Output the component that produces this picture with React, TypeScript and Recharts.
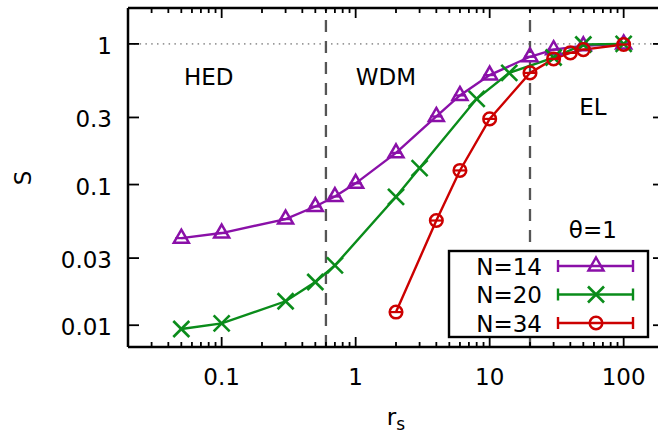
import React from "react";
import { LineChart, Line, XAxis, YAxis, ReferenceLine, ReferenceDot } from "recharts";

const FONT = "'DejaVu Sans', sans-serif";

// r_s and S for each particle number
const rsN14 = [0.05, 0.1, 0.3, 0.5, 0.7, 1, 2, 4, 6, 10, 20, 30, 50, 100];
const sN14 = [0.0416, 0.0452, 0.0568, 0.0698, 0.0822, 0.102, 0.168, 0.305, 0.43, 0.6, 0.81, 0.91, 0.97, 1.0];
const rsN20 = [0.05, 0.1, 0.3, 0.5, 0.7, 2, 3, 8, 14, 30, 50, 100];
const sN20 = [0.0094, 0.0103, 0.0148, 0.0203, 0.0266, 0.0818, 0.131, 0.407, 0.622, 0.8, 0.99, 1.0];
const rsN34 = [2, 4, 6, 10, 20, 30, 40, 50, 100];
const sN34 = [0.0124, 0.0555, 0.126, 0.293, 0.622, 0.782, 0.863, 0.911, 0.99];

const X_MAJOR = [0.1, 1, 10, 100];
const X_TICKS = [
  0.02, 0.03, 0.04, 0.05, 0.06, 0.07, 0.08, 0.09, 0.1,
  0.2, 0.3, 0.4, 0.5, 0.6, 0.7, 0.8, 0.9, 1,
  2, 3, 4, 5, 6, 7, 8, 9, 10,
  20, 30, 40, 50, 60, 70, 80, 90, 100, 200,
];
const Y_TICKS = [0.01, 0.03, 0.1, 0.3, 1];

const REGION_BOUNDS = [0.6, 20];

const noteText = ["HED", "WDM", "EL", "θ=1"];
const noteX = [0.08, 1.68, 58.9, 58.9];
const noteY = [0.581, 0.581, 0.356, 0.0479];

const SERIES = [
  { name: "N=14", color: "#8a10a8", marker: "tri", xs: rsN14, ys: sN14 },
  { name: "N=20", color: "#0a8c1a", marker: "x", xs: rsN20, ys: sN20 },
  { name: "N=34", color: "#cc0000", marker: "circle", xs: rsN34, ys: sN34 },
];

function Marker({ kind, cx, cy, color, cap = true }: any) {
  if (kind === "tri") {
    return (
      <g>
        <path
          d={`M${cx},${cy - 8.5} L${cx + 7.5},${cy + 4.5} L${cx - 7.5},${cy + 4.5} Z`}
          fill="none" stroke={color} strokeWidth={2.5}
        />
        {cap && <line x1={cx - 6} x2={cx + 6} y1={cy} y2={cy} stroke={color} strokeWidth={2.2} />}
      </g>
    );
  }
  if (kind === "x") {
    return (
      <g stroke={color} strokeWidth={2.6}>
        <line x1={cx - 8} y1={cy - 8} x2={cx + 8} y2={cy + 8} />
        <line x1={cx - 8} y1={cy + 8} x2={cx + 8} y2={cy - 8} />
      </g>
    );
  }
  return (
    <g>
      <circle cx={cx} cy={cy} r={6.3} fill="none" stroke={color} strokeWidth={2.5} />
      {cap && <line x1={cx - 6} x2={cx + 6} y1={cy} y2={cy} stroke={color} strokeWidth={2.2} />}
    </g>
  );
}

const BottomTick = ({ x, y, payload }: any) => {
  const major = X_MAJOR.includes(payload.value);
  return (
    <g>
      <line x1={x} x2={x} y1={y} y2={y - (major ? 10 : 5)} stroke="#000" strokeWidth={1.8} />
      {major && (
        <text x={x} y={y + 38} textAnchor="middle" fontSize={23} fontFamily={FONT} fill="#000">
          {String(payload.value)}
        </text>
      )}
    </g>
  );
};

const TopTick = ({ x, y, payload }: any) => {
  const major = X_MAJOR.includes(payload.value);
  return <line x1={x} x2={x} y1={y} y2={y + (major ? 10 : 5)} stroke="#000" strokeWidth={1.8} />;
};

const LeftTick = ({ x, y, payload }: any) => (
  <g>
    <line x1={x} x2={x + 11} y1={y} y2={y} stroke="#000" strokeWidth={1.8} />
    <text x={x - 16} y={y + 10} textAnchor="end" fontSize={23} fontFamily={FONT} fill="#000">
      {String(payload.value)}
    </text>
  </g>
);

const RightTick = ({ x, y }: any) => (
  <line x1={x} x2={x - 11} y1={y} y2={y} stroke="#000" strokeWidth={1.8} />
);

const frame = { stroke: "#000", strokeWidth: 2.5 };

export default function App() {
  return (
    <div style={{ position: "absolute", left: 0, top: 0, width: 658, height: 434, overflow: "hidden", background: "#fff" }}>
      <LineChart width={672} height={434} margin={{ top: 7, right: 7, bottom: 27, left: 68 }}>
        <XAxis
          xAxisId={0} dataKey="x" type="number" scale="log" domain={[0.02, 200]} allowDataOverflow
          ticks={X_TICKS} interval={0} tick={BottomTick} tickLine={false} tickSize={0} tickMargin={0}
          axisLine={frame} height={60}
        />
        <XAxis
          xAxisId="top" orientation="top" dataKey="x" type="number" scale="log" domain={[0.02, 200]} allowDataOverflow
          ticks={X_TICKS} interval={0} tick={TopTick} tickLine={false} tickSize={0} tickMargin={0}
          axisLine={frame} height={1}
        />
        <YAxis
          yAxisId={0} type="number" scale="log" domain={[0.007, 1.8]} allowDataOverflow
          ticks={Y_TICKS} interval={0} tick={LeftTick} tickLine={false} tickSize={0} tickMargin={0}
          axisLine={frame} width={60}
        />
        <YAxis
          yAxisId="right" orientation="right" type="number" scale="log" domain={[0.007, 1.8]} allowDataOverflow
          ticks={Y_TICKS} interval={0} tick={RightTick} tickLine={false} tickSize={0} tickMargin={0}
          axisLine={frame} width={1}
        />
        <ReferenceLine y={1} stroke="#999" strokeWidth={1.6} strokeDasharray="1.5 4.3" />
        {REGION_BOUNDS.map((b) => (
          <ReferenceLine key={b} x={b} stroke="#555" strokeWidth={2.3} strokeDasharray="12 9" />
        ))}
        {noteText.map((t, i) => (
          <ReferenceDot
            key={t} x={noteX[i]} y={noteY[i]} r={0} fill="none" stroke="none"
            label={{ value: t, position: "center", fontSize: 23, fontFamily: FONT, fill: "#000" }}
          />
        ))}
        {SERIES.map((s) => (
          <Line
            key={s.name}
            data={s.xs.map((x, i) => ({ x, y: s.ys[i] }))}
            dataKey="y"
            name={s.name}
            type="linear"
            stroke={s.color}
            strokeWidth={2.4}
            isAnimationActive={false}
            activeDot={false}
            dot={(p: any) => <Marker key={`${s.name}-${p.index}`} kind={s.marker} cx={p.cx} cy={p.cy} color={s.color} />}
          />
        ))}
      </LineChart>
      <svg width={658} height={434} style={{ position: "absolute", left: 0, top: 0, pointerEvents: "none" }}>
        <text transform="translate(23,178) rotate(-90)" textAnchor="middle" dy="0.36em" fontSize={23} fontFamily={FONT} fill="#000">
          S
        </text>
        <text x={396} y={425} textAnchor="middle" fontSize={23} fontFamily={FONT} fill="#000">
          r<tspan fontSize={17} dy={5}>s</tspan>
        </text>
        <rect x={449} y={251} width={199} height={86} fill="#fff" stroke="#000" strokeWidth={2.4} />
        {SERIES.map((s, i) => {
          const cy = 266 + i * 28.5;
          return (
            <g key={s.name}>
              <text x={542} y={cy + 8.5} textAnchor="end" fontSize={23} fontFamily={FONT} fill="#000">{s.name}</text>
              <line x1={558} x2={633} y1={cy} y2={cy} stroke={s.color} strokeWidth={2.4} />
              <line x1={558} x2={558} y1={cy - 6} y2={cy + 6} stroke={s.color} strokeWidth={2.4} />
              <line x1={633} x2={633} y1={cy - 6} y2={cy + 6} stroke={s.color} strokeWidth={2.4} />
              <Marker kind={s.marker} cx={596} cy={cy} color={s.color} cap={false} />
            </g>
          );
        })}
      </svg>
    </div>
  );
}
